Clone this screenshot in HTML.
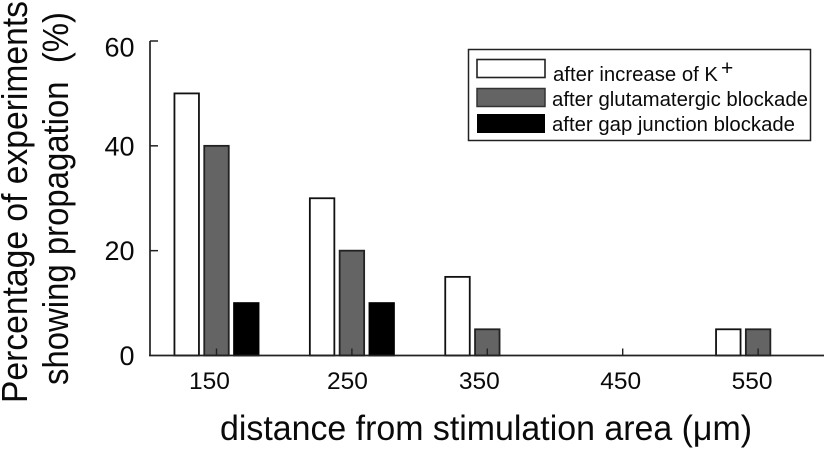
<!DOCTYPE html>
<html>
<head>
<meta charset="utf-8">
<style>
html,body{margin:0;padding:0;background:#fff;width:826px;height:451px;overflow:hidden}
svg{display:block}
text{font-family:"Liberation Sans",sans-serif;fill:#0a0a0a}
</style>
</head>
<body>
<svg id="chart" xmlns="http://www.w3.org/2000/svg" width="826" height="451" viewBox="0 0 826 451">
  <text transform="translate(27,403) rotate(-90)" font-size="36" textLength="402" lengthAdjust="spacingAndGlyphs">Percentage of experiments</text>
  <text transform="translate(68,385) rotate(-90)" font-size="36" textLength="373" lengthAdjust="spacingAndGlyphs">showing propagation&#160;&#160;(%)</text>
  <text x="220" y="440" font-size="35.5" textLength="532" lengthAdjust="spacingAndGlyphs">distance from stimulation area (&#956;m)</text>
  <g id="bars"></g>
  <g id="axes"></g>
  <g>
    <rect x="468.5" y="49.5" width="342" height="91" fill="#fff" stroke="#222" stroke-width="1.5"/>
    <rect x="477" y="59.5" width="68" height="18" fill="#fff" stroke="#222" stroke-width="1.6"/>
    <text x="553" y="81" font-size="20" textLength="165" lengthAdjust="spacingAndGlyphs">after increase of K</text>
    <text x="721" y="75" font-size="21">+</text>
    <rect x="477" y="88.5" width="68" height="18" fill="#646464" stroke="#333" stroke-width="1.5"/>
    <text x="552" y="106" font-size="20" textLength="256" lengthAdjust="spacingAndGlyphs">after glutamatergic blockade</text>
    <rect x="477" y="114" width="68" height="19" fill="#000"/>
    <text x="552" y="131" font-size="20" textLength="243" lengthAdjust="spacingAndGlyphs">after gap junction blockade</text>
  </g>
</svg>
<script>
const categories = ["150", "250", "350", "450", "550"];
const potassiumValues = [50, 30, 15, 0, 5];
const glutamatergicValues = [40, 20, 5, 0, 5];
const gapJunctionValues = [10, 10, 0, 0, 0];
const yTickLabels = [0, 20, 40, 60];

const NS = 'http://www.w3.org/2000/svg';
const axisX = 150, axisEnd = 824, axisY = 355.5, axisTop = 41;
const bandStep = 135.4, firstCenter = 216.5, barW = 24.5, barStep = 29.8;
const yScale = v => axisY - (v / 60) * (axisY - axisTop);
const xScale = i => firstCenter + i * bandStep;
/* Hand-placed label offsets seen in the original figure. */
const topLabelDrop = 6;
const xLabelShift = {"150": -7, "250": -4.5, "350": -8, "450": -2, "550": -6};

function mk(tag, attrs) {
  const el = document.createElementNS(NS, tag);
  for (const k in attrs) el.setAttribute(k, attrs[k]);
  return el;
}

const barsG = document.getElementById('bars');
const axesG = document.getElementById('axes');

function drawSeries(values, offset, fill, stroke, key) {
  values.forEach((v, i) => {
    if (v <= 0) return;
    const y = yScale(v);
    const r = mk('rect', {
      x: xScale(i) + offset * barStep - barW / 2,
      y: y,
      width: barW,
      height: axisY - y,
      fill: fill,
      stroke: stroke,
      'stroke-width': 1.8
    });
    
    
    barsG.appendChild(r);
  });
}
drawSeries(potassiumValues, -1, '#fff', '#111', 'potassium');
drawSeries(glutamatergicValues, 0, '#646464', '#222', 'glutamatergic');
drawSeries(gapJunctionValues, 1, '#000', '#000', 'gap-junction');

const yAxis = mk('line', {x1: axisX, x2: axisX, y1: axisTop, y2: axisY, stroke: '#222', 'stroke-width': 1.7});


axesG.appendChild(yAxis);

const xAxis = mk('line', {x1: axisX - 1, x2: axisEnd, y1: axisY, y2: axisY, stroke: '#222', 'stroke-width': 1.8});


axesG.appendChild(xAxis);

yTickLabels.forEach(v => {
  const y = yScale(v);
  if (v > 0) {
    const t = mk('line', {x1: axisX, x2: axisX + 8, y1: y, y2: y, stroke: '#222', 'stroke-width': 1.5});
    
    
    axesG.appendChild(t);
  }
  const drop = v === yTickLabels[yTickLabels.length - 1] ? topLabelDrop : 0;
  const l = mk('text', {x: 134.5, y: y + 9.5 + drop, 'text-anchor': 'end', 'font-size': 27});
  
  
  l.textContent = v;
  axesG.appendChild(l);
});

categories.forEach((c, i) => {
  const x = xScale(i);
  const t = mk('line', {x1: x, x2: x, y1: axisY - 7, y2: axisY, stroke: '#222', 'stroke-width': 1.4});
  
  
  axesG.appendChild(t);
  const shift = xLabelShift[c] !== undefined ? xLabelShift[c] : -6;
  const l = mk('text', {x: x + shift, y: 389, 'text-anchor': 'middle', 'font-size': 24.5});
  
  
  l.textContent = c;
  axesG.appendChild(l);
});
</script>
</body>
</html>
